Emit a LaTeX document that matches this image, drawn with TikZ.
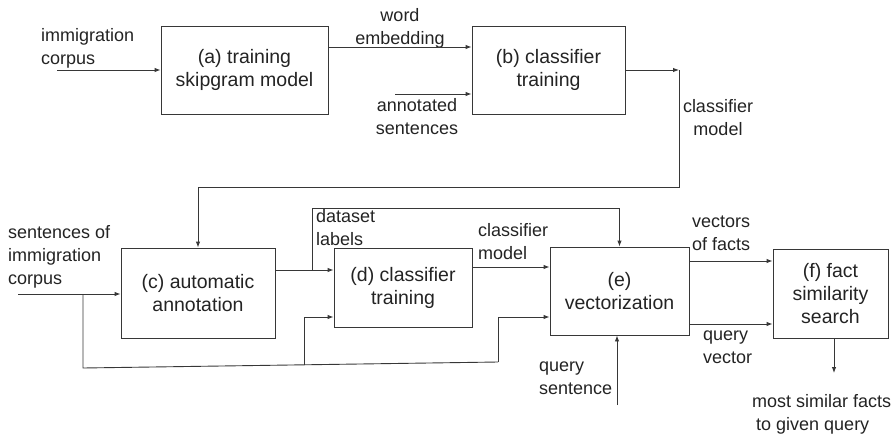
\documentclass[tikz,border=0pt]{standalone}
\usepackage{fontspec}
\setmainfont{Liberation Sans}
\usetikzlibrary{arrows.meta,calc}
\definecolor{lineclr}{RGB}{55,55,55}
\definecolor{txtclr}{RGB}{35,35,35}
\tikzset{
  stage/.style={draw=lineclr, line width=0.9pt, inner sep=0pt, align=center,
    text=txtclr, font=\fontsize{19.5}{23}\selectfont},
  lbl/.style={inner sep=0pt, text=txtclr, font=\fontsize{18}{23}\selectfont},
  conn/.style={draw=lineclr, line width=0.9pt},
  flow/.style={conn, -{Latex[length=6pt,width=4.5pt]}},
}
\begin{document}
\begin{tikzpicture}[x=1pt,y=-1pt]
\useasboundingbox (0,0) rectangle (894,434);

% processing stages
\node[stage, minimum width=167, minimum height=88] (a) at (244.5,70) {(a) training\\skipgram model};
\node[stage, minimum width=153, minimum height=88] (b) at (548.5,70) {(b) classifier\\training};
\node[stage, minimum width=154, minimum height=90] (c) at (198,293) {(c) automatic\\annotation};
\node[stage, minimum width=138, minimum height=79] (d) at (403,287.5) {(d) classifier\\training};
\node[stage, minimum width=139, minimum height=88] (e) at (619.5,291) {(e)\\vectorization};
\node[stage, minimum width=115, minimum height=89] (f) at (830.5,293.5) {(f) fact\\similarity\\search};

% labels
\node[lbl, align=left, anchor=west] (l1) at (41,48) {immigration\\corpus};
\node[lbl, align=center] (l2) at (400,28) {word\\embedding};
\node[lbl, align=center] (l3) at (417,117) {annotated\\sentences};
\node[lbl, align=center] (l4) at (718,118) {classifier\\model};
\node[lbl, align=left, anchor=west] (l5) at (8,257) {sentences of\\immigration\\corpus};
\node[lbl, align=left, anchor=west] (l6) at (316,228) {dataset\\labels};
\node[lbl, align=left, anchor=west] (l7) at (478,242) {classifier\\model};
\node[lbl, align=left, anchor=west] (l8) at (692,233) {vectors\\of facts};
\node[lbl, align=left, anchor=west] (l9) at (703,347) {query\\vector};
\node[lbl, align=left, anchor=west] (l10) at (539,378) {query\\sentence};
\node[lbl, align=left, anchor=west] (l11) at (752,414) {most similar facts\\\hspace*{4pt}to given query};

% connector end points and bends
\coordinate (inA) at (57,70);
\coordinate (we) at (0,47);
\coordinate (inAnn) at (395,94);
\coordinate (bOut) at (679,70);
\coordinate (fb) at (0,187);
\coordinate (inC) at (18,294);
\coordinate (j1) at (83,294);
\coordinate (low1) at (83,368);
\coordinate (j2) at (304,365);
\coordinate (low2) at (498,362);
\coordinate (lowIn) at (0,317);
\coordinate (cOut) at (0,270);
\coordinate (j3) at (312,270);
\coordinate (dl) at (0,208);
\coordinate (dOut) at (0,267);
\coordinate (vf) at (0,261);
\coordinate (qv) at (0,324);
\coordinate (qs) at (617,405);
\coordinate (res) at (834,373);

% connectors
\draw[flow] (inA) -- (a.west |- inA);
\draw[flow] (a.east |- we) -- (b.west |- we);
\draw[flow] (inAnn) -- (b.west |- inAnn);
\draw[flow] (b.east |- bOut) -- (bOut);
\draw[flow] (bOut) -- (bOut |- fb) -- (c.north |- fb) -- (c.north);
\draw[flow] (inC) -- (c.west |- inC);
\draw[conn] (j1) -- (low1) -- (low2);
\draw[flow] (low2) -- (low2 |- lowIn) -- (e.west |- lowIn);
\draw[flow] (j2) -- (j2 |- lowIn) -- (d.west |- lowIn);
\draw[flow] (c.east |- cOut) -- (d.west |- cOut);
\draw[flow] (j3) -- (j3 |- dl) -- (e.north |- dl) -- (e.north);
\draw[flow] (d.east |- dOut) -- (e.west |- dOut);
\draw[flow] (e.east |- vf) -- (f.west |- vf);
\draw[flow] (e.east |- qv) -- (f.west |- qv);
\draw[flow] (qs) -- (qs |- e.south);
\draw[flow] (res |- f.south) -- (res);
\end{tikzpicture}
\end{document}
